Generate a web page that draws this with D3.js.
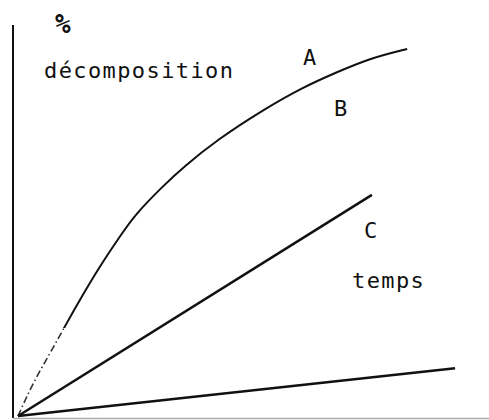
<!DOCTYPE html>
<html>
<head>
<meta charset="utf-8">
<script src="https://cdn.jsdelivr.net/npm/d3@7"></script>
<style>
  body { margin: 0; background: #fff; }
  svg { display: block; }
  text { font-family: "DejaVu Sans Mono", monospace; fill: #111; }
</style>
</head>
<body>
<script>
// temps (0-100) vs % décomposition (0-100)
const curveAB = [
	[0, 0], [0.9, 2.3], [3.3, 8.5], [7.1, 16.3], [10.8, 24.1], [13.7, 30.1],
	[18.1, 38.8], [22.6, 46.6], [25.9, 52.2], [32.1, 59.6], [36.5, 64.4],
	[44.0, 71.5], [54.2, 79.3], [63.1, 85.2], [70.6, 89.1], [77.9, 92.7], [86.1, 95.1]
];
const lineC = [[0, 0], [78.3, 57.3]];
const lineLow = [[0, 0], [96.7, 12.4]];

const width = 489, height = 420;

//create svg element
const svg = d3.select('body')
	.append('svg')
	.attr('width', width)
	.attr('height', height);

const x = d3.scaleLinear().domain([0, 100]).range([18, 470]);
const y = d3.scaleLinear().domain([0, 100]).range([416, 30]);

const line = d3.line()
	.x((d) => x(d[0]))
	.y((d) => y(d[1]));

// axes: plain strokes, no ticks
svg.append('line')
	.attr('x1', 13).attr('x2', 13)
	.attr('y1', 25).attr('y2', 418)
	.attr('stroke', '#111').attr('stroke-width', 2);
svg.append('line')
	.attr('x1', 13).attr('x2', 489)
	.attr('y1', 418.5).attr('y2', 418.5)
	.attr('stroke', '#aaa').attr('stroke-width', 1.5);

//the bottom of curve A/B is dash-dot, the rest is solid
svg.append('clipPath').attr('id', 'top')
	.append('rect').attr('x', 0).attr('y', 0).attr('width', width).attr('height', 328);
svg.append('clipPath').attr('id', 'bottom')
	.append('rect').attr('x', 0).attr('y', 328).attr('width', width).attr('height', 92);

//basis spline smooths out small reading errors in the hand-drawn curve
const curvePath = line.curve(d3.curveBasis)(curveAB);

svg.append('path')
	.attr('d', curvePath)
	.attr('clip-path', 'url(#top)')
	.attr('fill', 'none')
	.attr('stroke', '#111')
	.attr('stroke-width', 2);

svg.append('path')
	.attr('d', curvePath)
	.attr('clip-path', 'url(#bottom)')
	.attr('fill', 'none')
	.attr('stroke', '#333')
	.attr('stroke-width', 1.6)
	.attr('stroke-dasharray', '7,3,1.5,3');

line.curve(d3.curveLinear);

svg.selectAll('.straight')
	.data([lineC, lineLow])
	.enter()
	.append('path')
	.attr('class', 'straight')
	.attr('d', line)
	.attr('fill', 'none')
	.attr('stroke', '#111')
	.attr('stroke-width', 2.5);

// labels
const labels = [
	{ t: '%', x: 55, y: 33, size: 26, w: 'bold' },
	{ t: 'décomposition', x: 44, y: 78, size: 22 },
	{ t: 'A', x: 303, y: 65, size: 22 },
	{ t: 'B', x: 334, y: 116, size: 22 },
	{ t: 'C', x: 364, y: 238, size: 22 },
	{ t: 'temps', x: 352, y: 288, size: 22 }
];

svg.selectAll('.label')
	.data(labels)
	.enter()
	.append('text')
	.attr('class', 'label')
	.attr('x', (d) => d.x)
	.attr('y', (d) => d.y)
	.attr('font-size', (d) => d.size)
	.attr('font-weight', (d) => d.w || 'normal')
	.attr('letter-spacing', (d) => d.t.length > 1 ? 1.4 : 0)
	.text((d) => d.t);
</script>
</body>
</html>
